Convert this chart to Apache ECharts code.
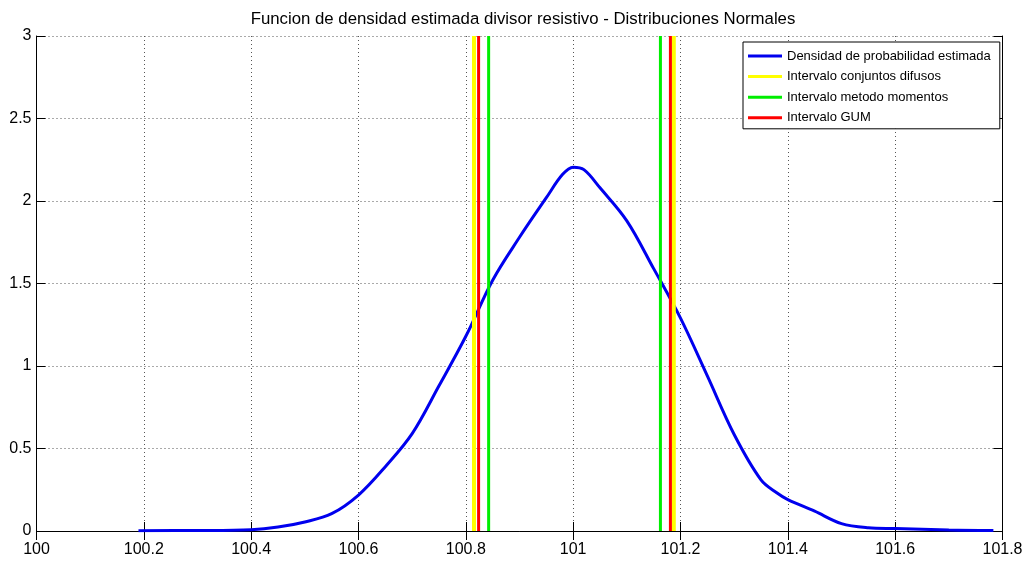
<!DOCTYPE html>
<html>
<head>
<meta charset="utf-8">
<script src="https://cdn.jsdelivr.net/npm/echarts@6/dist/echarts.min.js"></script>
<style>
  html, body { margin: 0; padding: 0; background: #fff; }
  #chart { width: 1026px; height: 561px; }
</style>
</head>
<body>
<div id="chart"></div>
<script>
// valores
const xVals = [100.19, 100.3, 100.4, 100.45, 100.5, 100.55, 100.6, 100.65, 100.7, 100.75,
  100.8, 100.85, 100.9, 100.95, 100.98, 101.0, 101.02, 101.05, 101.1, 101.15,
  101.2, 101.25, 101.3, 101.35, 101.38, 101.4, 101.45, 101.5, 101.55, 101.6,
  101.7, 101.783];
const density = [0.002, 0.003, 0.008, 0.024, 0.055, 0.105, 0.218, 0.39, 0.59, 0.88,
  1.18, 1.52, 1.78, 2.02, 2.16, 2.205, 2.19, 2.08, 1.88, 1.59,
  1.29, 0.94, 0.585, 0.31, 0.23, 0.19, 0.12, 0.045, 0.02, 0.015,
  0.006, 0.003];
const fuzzyInterval = [100.8152, 101.1875];
const momentsInterval = [100.8425, 101.1626];
const gumInterval = [100.8238, 101.1812];
const yRange = [0, 3];
const seriesNames = ['Densidad de probabilidad estimada', 'Intervalo conjuntos difusos',
  'Intervalo metodo momentos', 'Intervalo GUM'];

const chart = echarts.init(document.getElementById('chart'));

// una serie por cada linea vertical (mismo nombre -> una sola entrada en la leyenda)
function intervalSeries(name, values, color, width, z) {
  return values.map(v => ({
    name: name,
    type: 'line',
    z: z,
    showSymbol: false,
    silent: true,
    data: yRange.map(y => [v, y]),
    itemStyle: { color: color },
    lineStyle: { color: color, width: width }
  }));
}

const gridLine = { show: true, lineStyle: { color: '#555', type: [1, 3], width: 1 } };
const labelStyle = { color: '#000', fontSize: 16, fontFamily: 'Liberation Sans, Arial, sans-serif' };

const option = {
  animation: false,
  backgroundColor: '#fff',
  title: {
    text: 'Funcion de densidad estimada divisor resistivo - Distribuciones Normales',
    left: 518,
    textAlign: 'center',
    top: 6,
    textStyle: { fontSize: 16.8, fontWeight: 'normal', color: '#000', fontFamily: 'Liberation Sans, Arial, sans-serif' }
  },
  grid: { left: 36.5, right: 23.5, top: 36, bottom: 30 },
  legend: {
    data: seriesNames,
    orient: 'vertical',
    left: 743,
    top: 42,
    icon: 'rect',
    itemWidth: 34,
    itemHeight: 3,
    itemGap: 6.6,
    padding: [7, 9, 4, 5],
    borderColor: '#000',
    borderWidth: 1,
    borderRadius: 0,
    backgroundColor: '#fff',
    textStyle: { fontSize: 13, lineHeight: 14, color: '#000', fontFamily: 'Liberation Sans, Arial, sans-serif' }
  },
  xAxis: [{
    type: 'value', min: 100, max: 101.8, interval: 0.2,
    axisLine: { show: true, onZero: false, lineStyle: { color: '#000' } },
    axisTick: { show: true, inside: true, length: 9, lineStyle: { color: '#000' } },
    axisLabel: { ...labelStyle, margin: 11 },
    splitLine: gridLine
  }, {
    type: 'value', min: 100, max: 101.8, interval: 0.2, position: 'top',
    axisLine: { show: true, lineStyle: { color: '#000' } },
    axisTick: { show: true, inside: true, length: 9, lineStyle: { color: '#000' } },
    axisLabel: { show: false },
    splitLine: { show: false }
  }],
  yAxis: [{
    type: 'value', min: 0, max: 3, interval: 0.5,
    axisLine: { show: true, onZero: false, lineStyle: { color: '#000' } },
    axisTick: { show: true, inside: true, length: 9, lineStyle: { color: '#000' } },
    axisLabel: { ...labelStyle, margin: 5 },
    splitLine: gridLine
  }, {
    type: 'value', min: 0, max: 3, interval: 0.5, position: 'right',
    axisLine: { show: true, lineStyle: { color: '#000' } },
    axisTick: { show: true, inside: true, length: 9, lineStyle: { color: '#000' } },
    axisLabel: { show: false },
    splitLine: { show: false }
  }],
  series: [
    {
      name: seriesNames[0],
      type: 'line',
      z: 2,
      showSymbol: false,
      smooth: 0.35,
      data: xVals.map((x, i) => [x, density[i]]),
      itemStyle: { color: '#0000ee' },
      lineStyle: { color: '#0000ee', width: 3 }
    },
    ...intervalSeries(seriesNames[1], fuzzyInterval, '#ffff00', 4, 3),
    ...intervalSeries(seriesNames[2], momentsInterval, '#00ee00', 3, 4),
    ...intervalSeries(seriesNames[3], gumInterval, '#ff0000', 3, 5)
  ]
};

chart.setOption(option);
</script>
</body>
</html>
